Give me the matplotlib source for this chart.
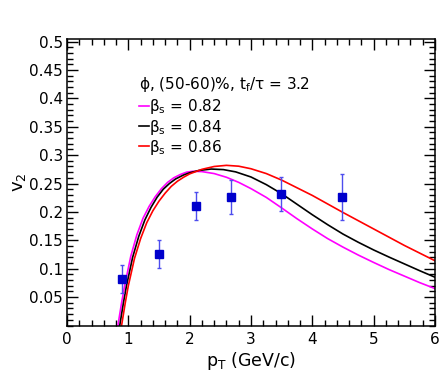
import matplotlib
matplotlib.use("Agg")
import matplotlib.pyplot as plt
from matplotlib.ticker import MultipleLocator, FixedLocator

plt.rcParams['font.family'] = ['DejaVu Sans']
plt.rcParams['mathtext.fontset'] = 'dejavusans'

# data points (phi v2)
pt_data = [0.90, 1.50, 2.10, 2.68, 3.49, 4.48]
v2_data = [0.082, 0.126, 0.210, 0.227, 0.232, 0.226]
v2_err = [0.025, 0.025, 0.025, 0.030, 0.030, 0.040]

# model curves
x_082 = [0.83, 0.89, 0.94, 1.04, 1.14, 1.24, 1.34, 1.44, 1.54, 1.64, 1.74, 1.85, 1.95, 2.05,
         2.20, 2.40, 2.60, 2.80, 3.00, 3.25, 3.50, 3.75, 4.00, 4.25, 4.50, 4.75, 5.00, 5.25,
         5.50, 5.75, 6.00]
y_082 = [0.0, 0.040, 0.070, 0.122, 0.160, 0.189, 0.210, 0.227, 0.241, 0.252, 0.260, 0.266, 0.270, 0.2715,
         0.271, 0.2675, 0.261, 0.252, 0.241, 0.2255, 0.207, 0.188, 0.170, 0.153, 0.138, 0.124, 0.111, 0.0985,
         0.087, 0.0755, 0.065]

x_084 = [0.86, 0.92, 0.97, 1.07, 1.17, 1.27, 1.37, 1.47, 1.57, 1.67, 1.77, 1.90, 2.00, 2.15,
         2.35, 2.55, 2.75, 3.00, 3.25, 3.50, 3.75, 4.00, 4.25, 4.50, 4.75, 5.00, 5.25, 5.50,
         5.75, 6.00]
y_084 = [0.0, 0.040, 0.070, 0.120, 0.157, 0.186, 0.208, 0.226, 0.240, 0.250, 0.258, 0.265, 0.269, 0.273,
         0.2755, 0.2745, 0.2705, 0.2615, 0.248, 0.232, 0.2135, 0.195, 0.1775, 0.161, 0.1465, 0.133, 0.1205, 0.1085,
         0.0965, 0.085]

x_086 = [0.89, 0.95, 1.00, 1.10, 1.20, 1.30, 1.40, 1.50, 1.60, 1.70, 1.80, 1.90, 2.00, 2.20,
         2.40, 2.60, 2.80, 3.00, 3.25, 3.50, 3.75, 4.00, 4.25, 4.50, 4.75, 5.00, 5.25, 5.50,
         5.75, 6.00]
y_086 = [0.0, 0.040, 0.070, 0.118, 0.153, 0.181, 0.202, 0.219, 0.233, 0.245, 0.254, 0.261, 0.267, 0.275,
         0.280, 0.282, 0.2805, 0.276, 0.2675, 0.256, 0.2425, 0.229, 0.214, 0.199, 0.1845, 0.170, 0.1555, 0.141,
         0.1275, 0.114]

fig = plt.figure(figsize=(4.48, 3.83), dpi=100)
ax = fig.add_axes([67/448, 1-325.5/383, (435-67)/448, (325.5-38.7)/383])

ax.plot(x_082, y_082, color='#ff00ff', lw=1.2)
ax.plot(x_084, y_084, color='black', lw=1.2)
ax.plot(x_086, y_086, color='#ff0000', lw=1.2)

ax.errorbar(pt_data, v2_data, yerr=v2_err, fmt='s', color='#0000cc', ms=5.5,
            ecolor='#4d4dee', elinewidth=1.0, capsize=1.5, capthick=1.0)

ax.set_xlim(0, 6)
ax.set_ylim(0, 0.505)

ax.xaxis.set_major_locator(MultipleLocator(1))
ax.xaxis.set_minor_locator(MultipleLocator(0.2))
ax.yaxis.set_major_locator(FixedLocator([0.05, 0.1, 0.15, 0.2, 0.25, 0.3, 0.35, 0.4, 0.45, 0.5]))
ax.yaxis.set_minor_locator(MultipleLocator(0.01))
ax.set_yticklabels(['0.05', '0.1', '0.15', '0.2', '0.25', '0.3', '0.35', '0.4', '0.45', '0.5'])

ax.tick_params(which='both', direction='in', top=True, right=True, labelsize=11, width=1.0)
ax.tick_params(which='major', length=8)
ax.tick_params(which='minor', length=4)
ax.tick_params(axis='x', pad=5)
ax.tick_params(axis='y', pad=3)
for s in ax.spines.values():
    s.set_linewidth(1.1)

ax.set_xlabel(r'p$_\mathregular{T}$ (GeV/c)', fontsize=12.5, labelpad=2)
ax.set_ylabel(r'v$_\mathregular{2}$', fontsize=13, labelpad=1)

# legend text
tx = 0.196
ax.text(tx, 0.840, '\u03d5, (50-60)%, t$_\\mathregular{f}$/\u03c4 = 3.2', transform=ax.transAxes,
        fontsize=11, va='center', ha='left')
rows = [(0.762, '#ff00ff', '0.82'), (0.690, 'black', '0.84'), (0.620, '#ff0000', '0.86')]
for yy, c, v in rows:
    ax.plot([tx, tx + 0.026], [yy + 0.005, yy + 0.005], color=c, lw=1.2, transform=ax.transAxes)
    ax.text(tx + 0.027, yy, '\u03b2$_\\mathregular{s}$ = ' + v, transform=ax.transAxes,
            fontsize=11, va='center', ha='left')

fig.savefig('out.png', dpi=100)
